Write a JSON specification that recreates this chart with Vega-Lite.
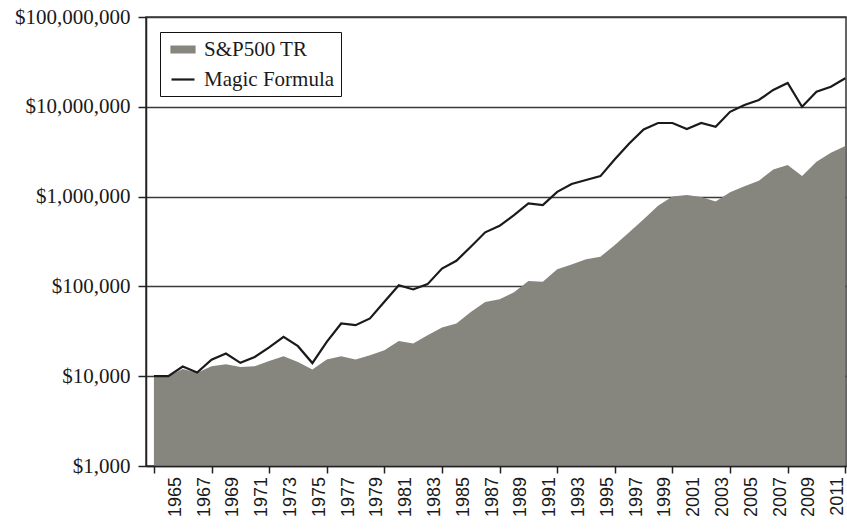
{
  "$schema": "https://vega.github.io/schema/vega-lite/v6.json",
  "width": 700,
  "height": 449,
  "autosize": {"type": "none"},
  "padding": {"left": 146, "top": 17, "right": 1, "bottom": 63},
  "background": "white",
  "config": {
    "view": {"stroke": "#333333", "strokeWidth": 1.5},
    "axis": {"domainColor": "#222222", "tickColor": "#222222", "domainWidth": 1.5, "tickWidth": 1.5},
    "axisX": {"labels": false, "labelOverlap": false},
    "legend": {"strokeColor": "#111111"}
  },
  "data": {"values": [
    {"year":1963,"series":"S&P500 TR","value":10000},
    {"year":1964,"series":"S&P500 TR","value":10000},
    {"year":1965,"series":"S&P500 TR","value":12000},
    {"year":1966,"series":"S&P500 TR","value":10900},
    {"year":1967,"series":"S&P500 TR","value":12900},
    {"year":1968,"series":"S&P500 TR","value":13600},
    {"year":1969,"series":"S&P500 TR","value":12700},
    {"year":1970,"series":"S&P500 TR","value":12900},
    {"year":1971,"series":"S&P500 TR","value":14800},
    {"year":1972,"series":"S&P500 TR","value":16700},
    {"year":1973,"series":"S&P500 TR","value":14400},
    {"year":1974,"series":"S&P500 TR","value":11900},
    {"year":1975,"series":"S&P500 TR","value":15300},
    {"year":1976,"series":"S&P500 TR","value":16700},
    {"year":1977,"series":"S&P500 TR","value":15300},
    {"year":1978,"series":"S&P500 TR","value":17100},
    {"year":1979,"series":"S&P500 TR","value":19500},
    {"year":1980,"series":"S&P500 TR","value":24700},
    {"year":1981,"series":"S&P500 TR","value":23100},
    {"year":1982,"series":"S&P500 TR","value":28600},
    {"year":1983,"series":"S&P500 TR","value":34900},
    {"year":1984,"series":"S&P500 TR","value":38700},
    {"year":1985,"series":"S&P500 TR","value":52000},
    {"year":1986,"series":"S&P500 TR","value":67000},
    {"year":1987,"series":"S&P500 TR","value":72000},
    {"year":1988,"series":"S&P500 TR","value":86000},
    {"year":1989,"series":"S&P500 TR","value":115000},
    {"year":1990,"series":"S&P500 TR","value":113000},
    {"year":1991,"series":"S&P500 TR","value":155000},
    {"year":1992,"series":"S&P500 TR","value":175000},
    {"year":1993,"series":"S&P500 TR","value":200000},
    {"year":1994,"series":"S&P500 TR","value":214000},
    {"year":1995,"series":"S&P500 TR","value":290000},
    {"year":1996,"series":"S&P500 TR","value":400000},
    {"year":1997,"series":"S&P500 TR","value":560000},
    {"year":1998,"series":"S&P500 TR","value":790000},
    {"year":1999,"series":"S&P500 TR","value":1000000},
    {"year":2000,"series":"S&P500 TR","value":1040000},
    {"year":2001,"series":"S&P500 TR","value":990000},
    {"year":2002,"series":"S&P500 TR","value":880000},
    {"year":2003,"series":"S&P500 TR","value":1120000},
    {"year":2004,"series":"S&P500 TR","value":1300000},
    {"year":2005,"series":"S&P500 TR","value":1500000},
    {"year":2006,"series":"S&P500 TR","value":2000000},
    {"year":2007,"series":"S&P500 TR","value":2250000},
    {"year":2008,"series":"S&P500 TR","value":1700000},
    {"year":2009,"series":"S&P500 TR","value":2450000},
    {"year":2010,"series":"S&P500 TR","value":3080000},
    {"year":2011,"series":"S&P500 TR","value":3650000},
    {"year":1963,"series":"Magic Formula","value":10000},
    {"year":1964,"series":"Magic Formula","value":10000},
    {"year":1965,"series":"Magic Formula","value":12800},
    {"year":1966,"series":"Magic Formula","value":11000},
    {"year":1967,"series":"Magic Formula","value":15300},
    {"year":1968,"series":"Magic Formula","value":17900},
    {"year":1969,"series":"Magic Formula","value":14100},
    {"year":1970,"series":"Magic Formula","value":16400},
    {"year":1971,"series":"Magic Formula","value":20900},
    {"year":1972,"series":"Magic Formula","value":27500},
    {"year":1973,"series":"Magic Formula","value":21600},
    {"year":1974,"series":"Magic Formula","value":14000},
    {"year":1975,"series":"Magic Formula","value":24100},
    {"year":1976,"series":"Magic Formula","value":38600},
    {"year":1977,"series":"Magic Formula","value":37000},
    {"year":1978,"series":"Magic Formula","value":44000},
    {"year":1979,"series":"Magic Formula","value":67300},
    {"year":1980,"series":"Magic Formula","value":103000},
    {"year":1981,"series":"Magic Formula","value":92500},
    {"year":1982,"series":"Magic Formula","value":106000},
    {"year":1983,"series":"Magic Formula","value":158000},
    {"year":1984,"series":"Magic Formula","value":193000},
    {"year":1985,"series":"Magic Formula","value":276000},
    {"year":1986,"series":"Magic Formula","value":400000},
    {"year":1987,"series":"Magic Formula","value":473000},
    {"year":1988,"series":"Magic Formula","value":622000},
    {"year":1989,"series":"Magic Formula","value":840000},
    {"year":1990,"series":"Magic Formula","value":804000},
    {"year":1991,"series":"Magic Formula","value":1130000},
    {"year":1992,"series":"Magic Formula","value":1380000},
    {"year":1993,"series":"Magic Formula","value":1530000},
    {"year":1994,"series":"Magic Formula","value":1690000},
    {"year":1995,"series":"Magic Formula","value":2600000},
    {"year":1996,"series":"Magic Formula","value":3900000},
    {"year":1997,"series":"Magic Formula","value":5600000},
    {"year":1998,"series":"Magic Formula","value":6600000},
    {"year":1999,"series":"Magic Formula","value":6600000},
    {"year":2000,"series":"Magic Formula","value":5650000},
    {"year":2001,"series":"Magic Formula","value":6600000},
    {"year":2002,"series":"Magic Formula","value":6000000},
    {"year":2003,"series":"Magic Formula","value":8800000},
    {"year":2004,"series":"Magic Formula","value":10500000},
    {"year":2005,"series":"Magic Formula","value":11900000},
    {"year":2006,"series":"Magic Formula","value":15400000},
    {"year":2007,"series":"Magic Formula","value":18400000},
    {"year":2008,"series":"Magic Formula","value":10000000},
    {"year":2009,"series":"Magic Formula","value":14700000},
    {"year":2010,"series":"Magic Formula","value":16700000},
    {"year":2011,"series":"Magic Formula","value":20800000}
  ]},
  "layer": [
    {
      "transform": [{"filter": "datum.series === 'S&P500 TR'"}],
      "mark": {"type": "area", "opacity": 1},
      "encoding": {
        "x": {
          "field": "year", "type": "quantitative",
          "scale": {"domain": [1962.45, 2011.05], "nice": false, "zero": false},
          "axis": {
            "title": null, "grid": false, "labels": false,
            "values": [1963,1964,1965,1966,1967,1968,1969,1970,1971,1972,1973,1974,1975,1976,1977,1978,1979,1980,1981,1982,1983,1984,1985,1986,1987,1988,1989,1990,1991,1992,1993,1994,1995,1996,1997,1998,1999,2000,2001,2002,2003,2004,2005,2006,2007,2008,2009,2010,2011],
            "tickSize": 7, "zindex": 1
          }
        },
        "y": {
          "field": "value", "type": "quantitative",
          "scale": {"type": "log", "domain": [1000, 100000000], "nice": false},
          "axis": {
            "title": null,
            "values": [1000, 10000, 100000, 1000000, 10000000, 100000000],
            "format": "$,.0f",
            "grid": true, "gridColor": "#3a3a3a", "gridWidth": 1.5,
            "labelFont": "Liberation Serif", "labelFontSize": 21, "labelColor": "#1a1a1a",
            "tickSize": 8, "labelPadding": 8, "zindex": 0
          }
        },
        "y2": {"datum": 1000},
        "color": {
          "field": "series", "type": "nominal",
          "scale": {"domain": ["S&P500 TR", "Magic Formula"], "range": ["#86867e", "#1a1a1a"]},
          "legend": {
            "title": null, "orient": "none", "legendX": 14, "legendY": 15,
            "padding": 6, "symbolSize": 400, "labelOffset": 15, "rowPadding": 8,
            "labelFont": "Liberation Serif", "labelFontSize": 21, "labelColor": "#1a1a1a",
            "strokeColor": "#111111", "fillColor": "white", "symbolStrokeWidth": 2.2
          }
        }
      }
    },
    {
      "transform": [{"filter": "datum.series === 'Magic Formula'"}],
      "mark": {"type": "line", "strokeWidth": 2.2, "strokeJoin": "miter"},
      "encoding": {
        "x": {
          "field": "year", "type": "quantitative",
          "scale": {"domain": [1962.45, 2011.05], "nice": false, "zero": false},
          "axis": {
            "title": null, "grid": false, "labels": false,
            "values": [1963,1964,1965,1966,1967,1968,1969,1970,1971,1972,1973,1974,1975,1976,1977,1978,1979,1980,1981,1982,1983,1984,1985,1986,1987,1988,1989,1990,1991,1992,1993,1994,1995,1996,1997,1998,1999,2000,2001,2002,2003,2004,2005,2006,2007,2008,2009,2010,2011],
            "tickSize": 7, "zindex": 1
          }
        },
        "y": {
          "field": "value", "type": "quantitative",
          "scale": {"type": "log", "domain": [1000, 100000000], "nice": false},
          "axis": {
            "title": null,
            "values": [1000, 10000, 100000, 1000000, 10000000, 100000000],
            "format": "$,.0f",
            "grid": true, "gridColor": "#3a3a3a", "gridWidth": 1.5,
            "labelFont": "Liberation Serif", "labelFontSize": 21, "labelColor": "#1a1a1a",
            "tickSize": 8, "labelPadding": 8, "zindex": 0
          }
        },
        "color": {
          "field": "series", "type": "nominal",
          "scale": {"domain": ["S&P500 TR", "Magic Formula"], "range": ["#86867e", "#1a1a1a"]},
          "legend": {
            "title": null, "orient": "none", "legendX": 14, "legendY": 15,
            "padding": 6, "symbolSize": 400, "labelOffset": 15, "rowPadding": 8,
            "labelFont": "Liberation Serif", "labelFontSize": 21, "labelColor": "#1a1a1a",
            "strokeColor": "#111111", "fillColor": "white", "symbolStrokeWidth": 2.2
          }
        }
      }
    },
    {
      "transform": [{"filter": "false"}],
      "mark": {"type": "point", "filled": true},
      "encoding": {
        "x": {"field": "year", "type": "quantitative"},
        "y": {"field": "value", "type": "quantitative"},
        "shape": {
          "field": "series", "type": "nominal",
          "scale": {"domain": ["S&P500 TR", "Magic Formula"], "range": ["M-0.6,-0.3L1.7,-0.3L1.7,0.3L-0.6,0.3Z", "M-0.6,0L1.7,0"]},
          "legend": {
            "title": null, "orient": "none", "legendX": 14, "legendY": 15,
            "padding": 6, "symbolSize": 400, "labelOffset": 15, "rowPadding": 8,
            "labelFont": "Liberation Serif", "labelFontSize": 21, "labelColor": "#1a1a1a",
            "strokeColor": "#111111", "fillColor": "white", "symbolStrokeWidth": 2.2
          }
        },
        "stroke": {
          "field": "series", "type": "nominal",
          "scale": {"domain": ["S&P500 TR", "Magic Formula"], "range": ["#86867e", "#1a1a1a"]},
          "legend": {
            "title": null, "orient": "none", "legendX": 14, "legendY": 15,
            "padding": 6, "symbolSize": 400, "labelOffset": 15, "rowPadding": 8,
            "labelFont": "Liberation Serif", "labelFontSize": 21, "labelColor": "#1a1a1a",
            "strokeColor": "#111111", "fillColor": "white", "symbolStrokeWidth": 2.2
          }
        }
      }
    },
    {
      "transform": [{"filter": "datum.series === 'S&P500 TR' && datum.year % 2 === 1 && datum.year > 1963"}],
      "mark": {
        "type": "text", "angle": 270, "align": "right", "baseline": "middle",
        "dx": -11, "dy": -7,
        "font": "Liberation Sans", "fontSize": 18, "color": "#1a1a1a"
      },
      "encoding": {
        "x": {"field": "year", "type": "quantitative"},
        "y": {"datum": 1000},
        "text": {"field": "year", "type": "quantitative", "format": "d"}
      }
    }
  ]
}
